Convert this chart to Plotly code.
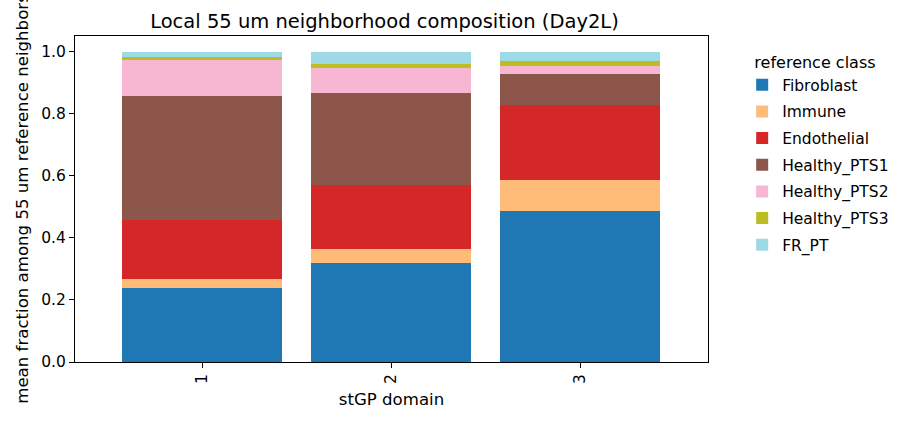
import plotly.graph_objects as go

domains = ["1", "2", "3"]
classes = ["Fibroblast", "Immune", "Endothelial", "Healthy_PTS1", "Healthy_PTS2", "Healthy_PTS3", "FR_PT"]
colors = ["#1f77b4", "#ffbb78", "#d62728", "#8c564b", "#f7b6d2", "#bcbd22", "#9edae5"]

fibroblast = [0.239, 0.320, 0.485]
immune = [0.029, 0.045, 0.100]
endothelial = [0.188, 0.205, 0.243]
healthy_pts1 = [0.401, 0.296, 0.100]
healthy_pts2 = [0.116, 0.081, 0.026]
healthy_pts3 = [0.010, 0.013, 0.016]
fr_pt = [0.017, 0.040, 0.030]

series = [fibroblast, immune, endothelial, healthy_pts1, healthy_pts2, healthy_pts3, fr_pt]

FONT = "DejaVu Sans"
TICK = 15.5
LABEL = 16.6
fig = go.Figure()
xs = list(range(len(domains)))
for name, vals, col in zip(classes, series, colors):
    fig.add_trace(go.Bar(x=xs, y=vals, name=name, marker=dict(color=col, line=dict(width=0)),
                         width=0.85, legendgroup=name))

fig.update_layout(
    width=913, height=421,
    barmode="stack",
    plot_bgcolor="white", paper_bgcolor="white",
    margin=dict(l=75, r=205, t=36, b=59),
    font=dict(family=FONT, size=TICK, color="black"),
    title=dict(text="Local 55 um neighborhood composition (Day2L)", x=(75 + 633 / 2 - 7) / 913, xanchor="center",
               y=1 - 21 / 421, yanchor="middle", font=dict(size=19.5, family=FONT, color="black")),
    xaxis=dict(range=[-0.672, 2.677], tickmode="array", tickvals=xs, ticktext=domains, tickangle=-90,
               showline=True, linecolor="black", linewidth=1, mirror=True, ticks="outside", ticklen=5,
               tickcolor="black", showgrid=False, zeroline=False, tickfont=dict(size=TICK),
               title=dict(text="stGP domain", standoff=10, font=dict(size=LABEL))),
    yaxis=dict(range=[0, 1.05], tickvals=[0, 0.2, 0.4, 0.6, 0.8, 1.0], tickformat=".1f",
               showline=True, linecolor="black", linewidth=1, mirror=True, ticks="outside", ticklen=5,
               tickcolor="black", showgrid=False, zeroline=False, tickfont=dict(size=TICK),
               title=dict(text="mean fraction among 55 um reference neighbors", standoff=8, font=dict(size=LABEL))),
    legend=dict(x=1.054, xanchor="left", y=0.965, yanchor="top", traceorder="grouped", tracegroupgap=3.5,
                title=dict(text="  reference class", font=dict(size=16)), font=dict(size=TICK),
                bgcolor="rgba(0,0,0,0)", borderwidth=0),
)

fig.write_html("out.html")
